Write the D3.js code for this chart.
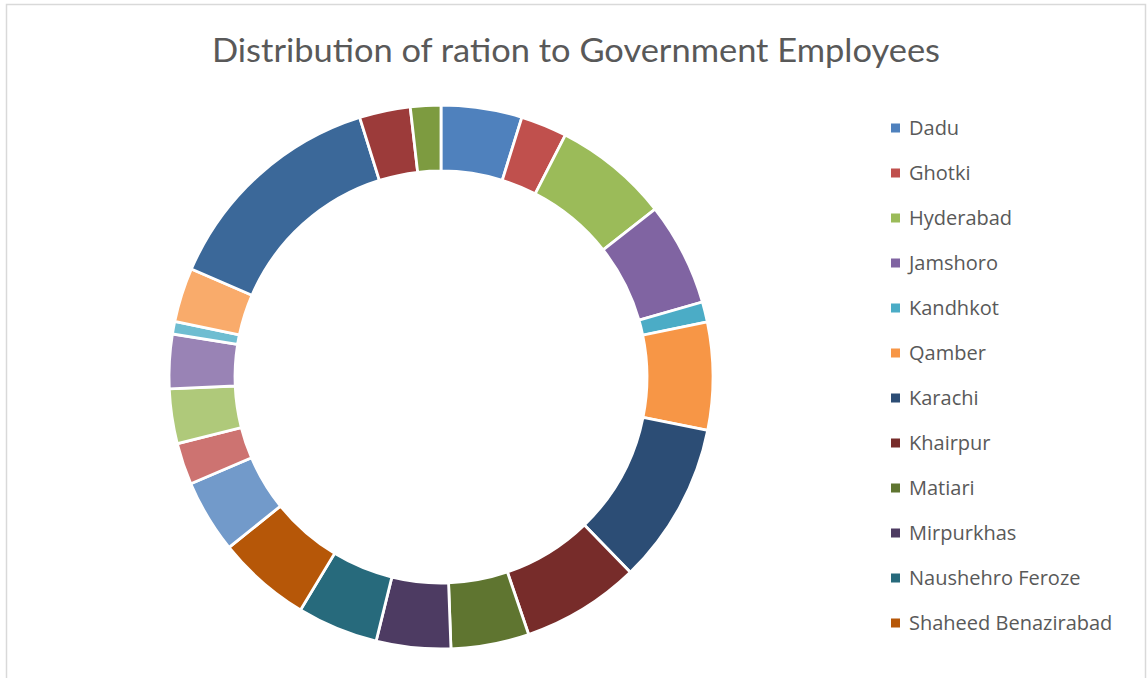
<!DOCTYPE html>
<html>
<head>
<meta charset="utf-8">
<script src="https://cdn.jsdelivr.net/npm/d3@7"></script>
<style>
  body { margin: 0; background: #fff; }
  svg { display: block; }
</style>
</head>
<body>
<div id="chart"></div>
<script>
// District names, in slice order (clockwise from 12 o'clock)
const districts = [
  "Dadu", "Ghotki", "Hyderabad", "Jamshoro", "Kandhkot", "Qamber",
  "Karachi", "Khairpur", "Matiari", "Mirpurkhas", "Naushehro Feroze", "Shaheed Benazirabad",
  "Sanghar", "Shikarpur", "Sukkur", "Tando Allahyar", "Tando Muhammad Khan", "Tharparkar",
  "Larkana", "Thatta", "Umerkot"
];

// Share of ration per district (in degrees of the ring)
const shares = [
  17.3, 9.9, 24.7, 22.1, 4.3, 23.0,
  34.6, 25.3, 16.7, 15.9, 17.3, 20.1,
  15.7, 8.9, 11.7, 11.6, 2.7, 11.6,
  49.2, 10.9, 6.5
];

// Excel-ish palette
const colors = [
  "#4F81BD", "#C0504D", "#9BBB59", "#8064A2", "#4BACC6", "#F79646",
  "#2C4D75", "#772C2A", "#5F7530", "#4D3B62", "#276A7C", "#B65708",
  "#729ACA", "#CD7371", "#AFC97A", "#9983B5", "#6FBDD1", "#F9AB6B",
  "#3B6899", "#9C3B3A", "#7D9B40"
];

// The legend only has room for the first 12 entries
const legendCount = 12;

const width = 1148, height = 678;
const cx = 441, cy = 377;
const outerR = 272, innerR = 206;

const data = districts.map((d, i) => ({ name: d, value: shares[i], color: colors[i] }));

const svg = d3.select("#chart").append("svg")
  .attr("width", width)
  .attr("height", height);

// chart area border (bottom runs off the picture)
svg.append("rect")
  .attr("x", 6.5).attr("y", 4.5)
  .attr("width", 1139).attr("height", 700)
  .attr("fill", "#fff")
  .attr("stroke", "#D9D9D9")
  .attr("stroke-width", 1.5);

// Title
svg.append("text")
  .attr("x", 576)
  .attr("y", 62)
  .attr("text-anchor", "middle")
  .attr("textLength", 728)
  .attr("lengthAdjust", "spacingAndGlyphs")
  .style("font-family", "Lato, 'Open Sans', sans-serif")
  .style("font-size", "33px")
  .style("fill", "#595959")
  .text("Distribution of ration to Government Employees");

// Doughnut
const pie = d3.pie().value(d => d.value).sort(null);
const arc = d3.arc().innerRadius(innerR).outerRadius(outerR);

const g = svg.append("g")
  .attr("transform", "translate(" + cx + "," + cy + ")");

g.selectAll(".slice")
  .data(pie(data))
  .enter().append("path")
    .attr("class", "slice")
    .attr("d", arc)
    .attr("fill", d => d.data.color)
    .attr("stroke", "#fff")
    .attr("stroke-width", 2.8)
    .attr("stroke-linejoin", "miter");

// Legend
const legendY = d3.scalePoint()
  .domain(districts.slice(0, legendCount))
  .range([128, 623]);

const legend = svg.selectAll(".legend")
  .data(data.slice(0, legendCount))
  .enter().append("g")
    .attr("class", "legend")
    .attr("transform", d => "translate(891," + legendY(d.name) + ")");

legend.append("rect")
  .attr("x", 0).attr("y", -4.5)
  .attr("width", 9).attr("height", 9)
  .attr("fill", d => d.color);

legend.append("text")
  .attr("x", 18)
  .attr("y", 7)
  .style("font-family", "'Open Sans', sans-serif")
  .style("font-size", "20px")
  .style("fill", "#595959")
  .text(d => d.name);
</script>
</body>
</html>
